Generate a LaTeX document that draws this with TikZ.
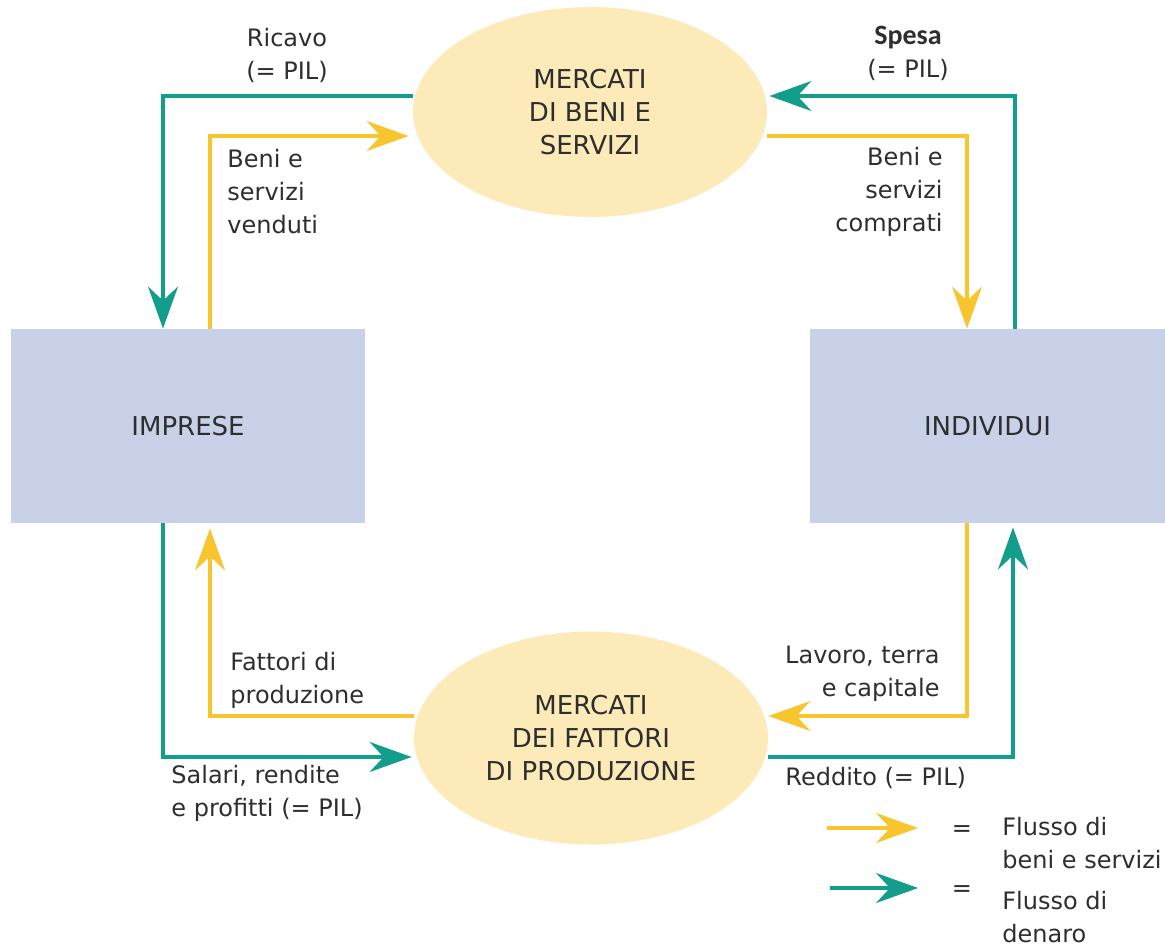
\documentclass[tikz,border=0pt]{standalone}
\usepackage{fontspec}
\setmainfont{DejaVu Sans}
\newfontfamily\spesafont{Carlito}
\usetikzlibrary{shapes,arrows.meta,positioning,calc,backgrounds}
\definecolor{circteal}{HTML}{139D8B}
\definecolor{circyellow}{HTML}{F9C52F}
\definecolor{circcream}{HTML}{FCEBB8}
\definecolor{circblue}{HTML}{C8D1E8}
\definecolor{circtext}{HTML}{2E2E2E}

\begin{document}
\begin{tikzpicture}[
    x=0.5pt,y=-0.5pt,
    mkt/.style   = {ellipse,fill=circcream,inner sep=0pt,align=center,
                    font=\fontsize{13}{16.5}\selectfont,text=circtext,
                    minimum width=177pt,minimum height=105pt},
    agt/.style   = {rectangle,fill=circblue,inner sep=0pt,
                    font=\fontsize{13}{16.5}\selectfont,text=circtext,
                    minimum width=177pt,minimum height=97pt},
    money/.style = {-{Stealth[length=21pt,width=15pt,inset=7pt]},circteal,line width=1.6pt},
    goods/.style = {-{Stealth[length=21pt,width=15pt,inset=7pt]},circyellow,line width=1.6pt},
    lbl/.style   = {inner sep=0pt,font=\fontsize{12}{16.5}\selectfont,text=circtext},
  ]
  \useasboundingbox (0,0) rectangle (1165,947);

  % mercati e operatori
  \node[mkt] (mbs) at (590,112) {MERCATI\\DI BENI E\\SERVIZI};
  \node[mkt,minimum height=106.5pt] (mfp) at (591,738) {MERCATI\\DEI FATTORI\\DI PRODUZIONE};
  \node[agt] (imp) at (188,426) {IMPRESE};
  \node[agt,minimum width=177.5pt] (ind) at (987.5,426) {INDIVIDUI};

  % punti di svolta dei flussi
  \coordinate (rv) at (163,96);
  \coordinate (bv) at (210,136);
  \coordinate (sp) at (1015,96);
  \coordinate (bc) at (967,136);
  \coordinate (sr) at (163,757);
  \coordinate (fp) at (210,716);
  \coordinate (lt) at (967,716);
  \coordinate (rd) at (1013,757);

  \begin{scope}[on background layer]
    \draw[money] (rv -| mbs.west) -- (rv) -- (rv |- imp.north);
    \draw[goods,shorten >=2pt] (bv |- imp.north) -- (bv) -- (bv -| mbs.west);
    \draw[money,shorten >=1pt] (sp |- ind.north) -- (sp) -- (sp -| mbs.east);
    \draw[goods] (bc -| mbs.east) -- (bc) -- (bc |- ind.north);
    \draw[money,shorten >=1pt] (sr |- imp.south) -- (sr) -- (sr -| mfp.west);
    \draw[goods,shorten >=2.5pt] (fp -| mfp.west) -- (fp) -- (fp |- imp.south);
    \draw[goods] (lt |- ind.south) -- (lt) -- (lt -| mfp.east);
    \draw[money,shorten >=2pt] (rd -| mfp.east) -- (rd) -- (rd |- ind.south);
  \end{scope}

  \node[lbl,align=center] (ricavo) at (287,55) {Ricavo\\(= PIL)};
  \node[lbl,align=center] (spesa) at (908,53) {{\spesafont\bfseries\fontsize{14}{16.5}\selectfont Spesa}\\(= PIL)};
  \node[lbl,align=left,anchor=west] (venduti) at (227,192) {Beni e\\servizi\\venduti};
  \node[lbl,align=right,anchor=east] (comprati) at (943,192) {Beni e\\servizi\\comprati};
  \node[lbl,align=left,anchor=west] (fattori) at (230,680) {Fattori di\\produzione};
  \node[lbl,align=left,anchor=west] (salari) at (171,793) {Salari, rendite\\e profitti (= PIL)};
  \node[lbl,align=right,anchor=east] (lavoro) at (940,674) {Lavoro, terra\\e capitale};
  \node[lbl,anchor=west] (reddito) at (785,778) {Reddito (= PIL)};

  % legenda
  \coordinate (ly0) at (827,828);
  \coordinate (ly1) at (918,828);
  \coordinate (lt0) at (830,888);
  \coordinate (lt1) at (918,888);
  \draw[goods] (ly0) -- (ly1);
  \draw[money] (lt0) -- (lt1);
  \node[lbl] (eqy) at (962,831) {=};
  \node[lbl] (eqt) at (962,891) {=};
  \node[lbl,align=left,anchor=north west] (legy) at (1002,817) {Flusso di\\beni e servizi};
  \node[lbl,align=left,anchor=north west] (legt) at (1002,891) {Flusso di\\denaro};

\end{tikzpicture}
\end{document}
